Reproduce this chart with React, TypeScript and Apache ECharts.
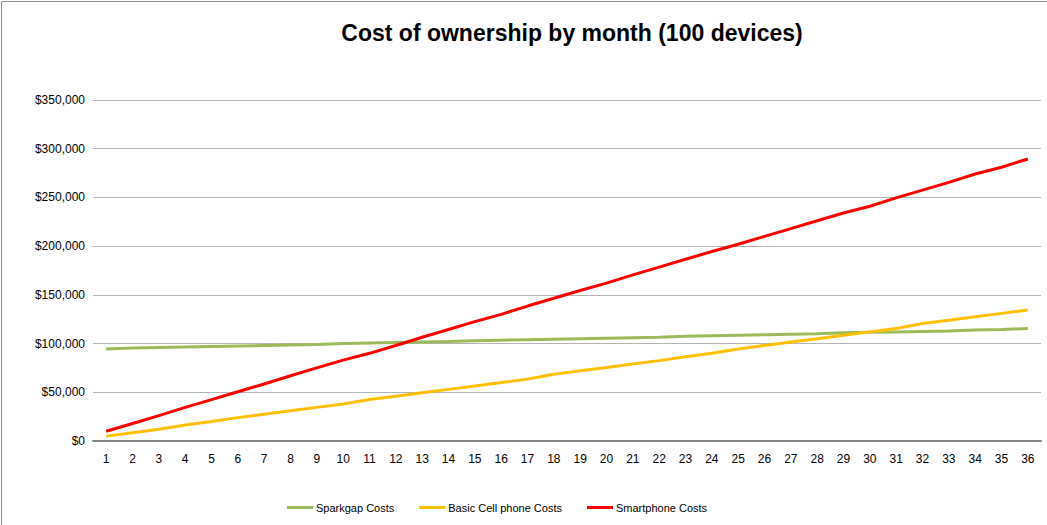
import React, { useEffect, useRef } from "react";
import * as echarts from "echarts";

const months = Array.from({ length: 36 }, (_, i) => String(i + 1));
const sparkgap = [94500, 95500, 96000, 96500, 97000, 97500, 98000, 98500, 99000, 100000, 100500, 101000, 101500, 102000, 103000, 103500, 104000, 104500, 105000, 105500, 106000, 106500, 107500, 108000, 108500, 109000, 109500, 110000, 111000, 111500, 112000, 112500, 113000, 114000, 114500, 115500];
const basicCell = [5000, 8500, 12000, 16500, 20000, 24000, 27500, 31000, 34500, 38000, 42500, 46000, 49500, 53000, 56500, 60000, 63500, 68500, 72000, 75500, 79000, 82500, 86500, 90000, 94500, 98000, 101500, 105000, 108500, 112000, 115500, 120500, 124000, 127500, 131000, 134500];
const smartphone = [10000, 18000, 26000, 34500, 42500, 50500, 58500, 67000, 75000, 83000, 90000, 98000, 106500, 114500, 122500, 130000, 138500, 146500, 154500, 162000, 170500, 178500, 186500, 194500, 202000, 210000, 218000, 226000, 234000, 241000, 249500, 257500, 265500, 274000, 281000, 289500];

const FONT = "'Liberation Sans', sans-serif";

export default function App() {
  const ref = useRef<HTMLDivElement>(null);
  useEffect(() => {
    document.body.style.margin = "0";
    const chart = echarts.init(ref.current!, null, { renderer: "svg" });
    chart.setOption({
      animation: false,
      backgroundColor: "#ffffff",
      title: {
        text: "Cost of ownership by month (100 devices)",
        left: 567,
        textAlign: "center",
        top: 16,
        textStyle: { fontFamily: FONT, fontWeight: "bold", fontSize: 23, color: "#000" },
      },
      graphic: [
        {
          type: "rect",
          shape: { x: 1.5, y: 1.5, width: 1050, height: 530 },
          style: { fill: "none", stroke: "#8c8c8c", lineWidth: 1 },
          silent: true,
        },
      ],
      legend: {
        left: 282,
        top: 497,
        itemWidth: 26,
        itemHeight: 3,
        itemGap: 25,
        icon: "rect",
        textStyle: { fontFamily: FONT, fontSize: 11, color: "#000", padding: [0, 0, 0, -2] },
        data: ["Sparkgap Costs", "Basic Cell phone Costs", "Smartphone Costs"],
      },
      grid: { left: 93, right: 6, top: 100, bottom: 84, containLabel: false },
      xAxis: {
        type: "category",
        data: months,
        boundaryGap: true,
        axisLine: { lineStyle: { color: "#868686", width: 2 } },
        axisTick: { show: false },
        axisLabel: { fontFamily: FONT, fontSize: 12, color: "#000", margin: 12 },
      },
      yAxis: {
        type: "value",
        min: 0,
        max: 350000,
        interval: 50000,
        axisLine: { show: false },
        axisTick: { show: false },
        splitLine: { lineStyle: { color: "#b3b3b3", width: 1 } },
        axisLabel: {
          fontFamily: FONT,
          fontSize: 12,
          color: "#000",
          margin: 8,
          formatter: (v: number) => "$" + v.toLocaleString("en-US"),
        },
      },
      series: [
        { name: "Sparkgap Costs", type: "line", data: sparkgap, symbol: "none", color: "#9bbb59", lineStyle: { width: 3, color: "#9bbb59" } },
        { name: "Basic Cell phone Costs", type: "line", data: basicCell, symbol: "none", color: "#ffc000", lineStyle: { width: 3, color: "#ffc000" } },
        { name: "Smartphone Costs", type: "line", data: smartphone, symbol: "none", color: "#ff0000", lineStyle: { width: 3, color: "#ff0000" } },
      ],
    });
    return () => chart.dispose();
  }, []);
  return <div ref={ref} style={{ position: "absolute", left: 0, top: 0, width: 1047, height: 525 }} />;
}
